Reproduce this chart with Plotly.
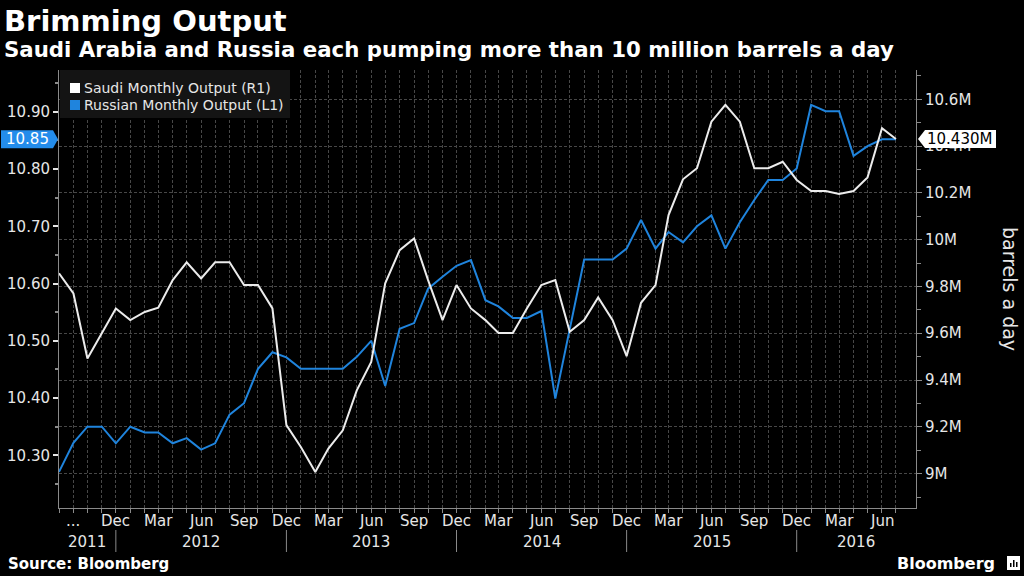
import plotly.graph_objects as go
import pandas as pd

# ---------------- data ----------------
months = pd.date_range("2011-08-01", periods=60, freq="MS")

russia = [10.271, 10.322, 10.350, 10.350, 10.321, 10.350, 10.340, 10.340, 10.321, 10.330,
          10.310, 10.321, 10.371, 10.391, 10.451, 10.480, 10.471, 10.451, 10.451, 10.451,
          10.451, 10.472, 10.500, 10.421, 10.521, 10.531, 10.591, 10.612, 10.631, 10.641,
          10.571, 10.560, 10.540, 10.540, 10.552, 10.399, 10.518, 10.642, 10.642, 10.642,
          10.661, 10.711, 10.661, 10.690, 10.672, 10.700, 10.719, 10.661, 10.707, 10.746,
          10.781, 10.781, 10.801, 10.912, 10.901, 10.901, 10.823, 10.840, 10.852, 10.852]

saudi = [9.856, 9.770, 9.492, 9.599, 9.706, 9.656, 9.691, 9.709, 9.827, 9.903,
         9.834, 9.903, 9.903, 9.806, 9.806, 9.706, 9.207, 9.114, 9.007, 9.107,
         9.185, 9.356, 9.477, 9.813, 9.955, 10.005, 9.827, 9.656, 9.806, 9.706,
         9.656, 9.601, 9.601, 9.706, 9.806, 9.827, 9.606, 9.656, 9.753, 9.656,
         9.502, 9.730, 9.806, 10.105, 10.258, 10.305, 10.504, 10.576, 10.504, 10.305,
         10.305, 10.333, 10.255, 10.208, 10.208, 10.195, 10.208, 10.266, 10.476, 10.430]

left_ticks = [10.30, 10.40, 10.50, 10.60, 10.70, 10.80, 10.90]
right_ticks = [9.0, 9.2, 9.4, 9.6, 9.8, 10.0, 10.2, 10.4, 10.6]
right_ticktext = ["9M", "9.2M", "9.4M", "9.6M", "9.8M", "10M", "10.2M", "10.4M", "10.6M"]
years = ["2011", "2012", "2013", "2014", "2015", "2016"]

title = "Brimming Output"
subtitle = "Saudi Arabia and Russia each pumping more than 10 million barrels a day"
saudi_name = "Saudi Monthly Output (R1)"
russia_name = "Russian Monthly Output (L1)"

# ---------------- style ----------------
W, H = 1024, 576
PL, PR, PT, PB = 59, 916, 70, 508
FONT = "DejaVu Sans"
WHITE_LINE = "#ececec"
BLUE = "#1f84dd"
LABEL_BLUE = "#238ceb"
TXT = "#e6e6e6"
AXIS = "#8a8a8a"
GRID = "#474747"


def fx(px):
    return (px - PL) / (PR - PL)


def fy(py):
    return (PB - py) / (PB - PT)


x_end = pd.Timestamp("2016-08-13")

month_labels = []
for d in months:
    if d == months[1]:
        month_labels.append((d, "..."))
    elif d.month in (3, 6, 9, 12):
        month_labels.append((d, d.strftime("%b")))

fig = go.Figure()
fig.add_trace(go.Scatter(x=months, y=saudi, yaxis="y2", mode="lines",
                         line=dict(color=WHITE_LINE, width=2), name=saudi_name,
                         showlegend=False))
fig.add_trace(go.Scatter(x=months, y=russia, yaxis="y", mode="lines",
                         line=dict(color=BLUE, width=2), name=russia_name,
                         showlegend=False))

fig.update_layout(
    width=W, height=H,
    margin=dict(l=PL, r=W - PR, t=PT, b=H - PB),
    paper_bgcolor="black", plot_bgcolor="black",
    font=dict(family=FONT, color=TXT, size=15),
    xaxis=dict(
        range=[months[0], x_end],
        tickvals=list(months), showticklabels=False,
        showgrid=True, gridcolor=GRID, griddash="3px,2px", gridwidth=1,
        showline=True, linecolor=AXIS, linewidth=1,
        ticks="outside", ticklen=4, tickcolor=AXIS,
        zeroline=False, automargin=False,
    ),
    yaxis=dict(
        range=[10.208, 10.973],
        tickvals=left_ticks, ticktext=[f"{v:.2f}" for v in left_ticks],
        showgrid=False, zeroline=False, automargin=False,
        showline=True, linecolor=AXIS, linewidth=1,
        ticks="outside", ticklen=5, tickcolor=TXT, tickwidth=2,
        minor=dict(dtick=0.05, tick0=10.25, ticklen=3, tickcolor=AXIS, ticks="outside", showgrid=False),
        tickfont=dict(family=FONT, size=15, color=TXT),
    ),
    yaxis2=dict(
        range=[8.853, 10.725], overlaying="y", side="right",
        tickvals=right_ticks, ticktext=right_ticktext,
        showgrid=True, gridcolor=GRID, griddash="3px,2px", gridwidth=1,
        zeroline=False, automargin=False,
        showline=True, linecolor=AXIS, linewidth=1,
        ticks="outside", ticklen=5, tickcolor=AXIS,
        minor=dict(dtick=0.2, tick0=8.9, ticklen=4, tickcolor=AXIS, ticks="outside", showgrid=False),
        tickfont=dict(family=FONT, size=15, color=TXT),
    ),
)

shapes = []
annotations = []

# titles
annotations.append(dict(text=f"<b>{title}</b>", xref="paper", yref="paper",
                        x=fx(2), y=fy(21), xanchor="left", yanchor="middle",
                        showarrow=False, font=dict(family=FONT, size=29, color="white")))
annotations.append(dict(text=f"<b>{subtitle}</b>", xref="paper", yref="paper",
                        x=fx(2), y=fy(50), xanchor="left", yanchor="middle",
                        showarrow=False, font=dict(family=FONT, size=21.3, color="white")))

# legend box
shapes.append(dict(type="rect", xref="paper", yref="paper", x0=fx(60), x1=fx(290),
                   y0=fy(118), y1=1, fillcolor="#141414", line=dict(width=0), layer="above"))
for row_y, col, name in [(88, "white", saudi_name), (105, BLUE, russia_name)]:
    shapes.append(dict(type="rect", xref="paper", yref="paper", x0=fx(70), x1=fx(80),
                       y0=fy(row_y + 5), y1=fy(row_y - 5), fillcolor=col,
                       line=dict(width=0), layer="above"))
    annotations.append(dict(text=name, xref="paper", yref="paper", x=fx(82), y=fy(row_y),
                            xanchor="left", yanchor="middle", showarrow=False,
                            font=dict(family=FONT, size=14, color=TXT)))

# month labels
for d, lab in month_labels:
    annotations.append(dict(text=lab, xref="x", yref="paper", x=d, y=fy(521),
                            xanchor="center", yanchor="middle", showarrow=False,
                            font=dict(family=FONT, size=15, color=TXT)))

# year separators and labels
seps = [d for d in months if d.month == 12]
for d in seps:
    shapes.append(dict(type="line", xref="x", yref="paper", x0=d, x1=d,
                       y0=fy(530), y1=fy(552), line=dict(color=AXIS, width=1)))
bounds = [months[0]] + seps + [x_end]
for i, yr in enumerate(years):
    mid = bounds[i] + (bounds[i + 1] - bounds[i]) / 2
    annotations.append(dict(text=yr, xref="x", yref="paper", x=mid, y=fy(542),
                            xanchor="center", yanchor="middle", showarrow=False,
                            font=dict(family=FONT, size=15, color=TXT)))

# right axis title
annotations.append(dict(text="barrels a day", xref="paper", yref="paper", x=fx(1010), y=0.5,
                        textangle=90, xanchor="center", yanchor="middle", showarrow=False,
                        font=dict(family=FONT, size=19, color=TXT)))

# last-value labels
shapes.append(dict(type="path", xref="paper", yref="y", xsizemode="pixel", ysizemode="pixel",
                   xanchor=0, yanchor=russia[-1],
                   path="M -58,-9 L -6,-9 L -1,0 L -6,9 L -58,9 Z",
                   fillcolor=LABEL_BLUE, line=dict(width=0), layer="above"))
annotations.append(dict(text=f"{russia[-1]:.2f}", xref="paper", yref="y", x=fx(27), y=russia[-1],
                        xanchor="center", yanchor="middle", showarrow=False,
                        font=dict(family=FONT, size=15, color="white")))
shapes.append(dict(type="path", xref="paper", yref="y2", xsizemode="pixel", ysizemode="pixel",
                   xanchor=1, yanchor=saudi[-1],
                   path="M 2,0 L 9,-9 L 80,-9 L 80,9 L 9,9 Z",
                   fillcolor="white", line=dict(width=0), layer="above"))
annotations.append(dict(text=f"{saudi[-1]:.3f}M", xref="paper", yref="y2", x=fx(960), y=saudi[-1],
                        xanchor="center", yanchor="middle", showarrow=False,
                        font=dict(family=FONT, size=15, color="black")))

# footer
annotations.append(dict(text="<b>Source: Bloomberg</b>", xref="paper", yref="paper",
                        x=fx(6), y=fy(564), xanchor="left", yanchor="middle", showarrow=False,
                        font=dict(family=FONT, size=15, color="white")))
annotations.append(dict(text="<b>Bloomberg</b>", xref="paper", yref="paper",
                        x=fx(997), y=fy(563), xanchor="right", yanchor="middle", showarrow=False,
                        font=dict(family=FONT, size=16, color="white")))
shapes.append(dict(type="rect", xref="paper", yref="paper", x0=fx(1007), x1=fx(1020),
                   y0=fy(570), y1=fy(556), fillcolor="white", line=dict(width=0)))
for bx, bh in [(1010, 4), (1013, 7), (1016, 5)]:
    shapes.append(dict(type="rect", xref="paper", yref="paper", x0=fx(bx), x1=fx(bx + 1.5),
                       y0=fy(567), y1=fy(567 - bh), fillcolor="black", line=dict(width=0)))

fig.update_layout(shapes=shapes, annotations=annotations)
fig.write_html("out.html", config={"displayModeBar": False},
               post_script="document.body.style.margin='0';document.body.style.background='black';")
